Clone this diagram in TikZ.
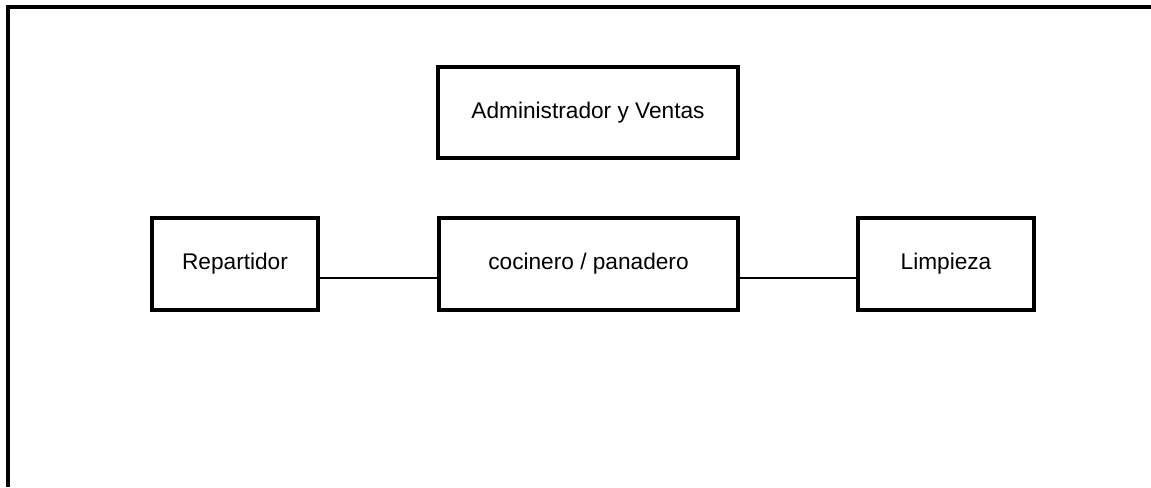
\documentclass[tikz,border=0pt]{standalone}
\usepackage{fontspec}
\setmainfont{Liberation Sans}
\tikzset{puesto/.style={draw, line width=3.4pt, minimum height=69pt, inner sep=0pt, font=\fontsize{17}{20}\selectfont}}
\begin{document}
\begin{tikzpicture}[x=0.75pt,y=-0.75pt]
  \useasboundingbox (0,0) rectangle (1151,487);
  \draw[line width=3pt] (8,487) -- (8,7) -- (1151,7);

  \node[puesto, minimum width=225pt, minimum height=68.25pt] (admin) at (588,112.5){Administrador y Ventas};
  \node[puesto, minimum width=124.5pt] (rep) at (235,264){Repartidor};
  \node[puesto, minimum width=224.25pt] (coc) at (588.5,264){cocinero / panadero};
  \node[puesto, minimum width=132pt] (lim) at (946,264){Limpieza};

  \draw[line width=2pt] ([yshift=-10.5pt]rep.east) -- ([yshift=-10.5pt]coc.west);
  \draw[line width=2pt] ([yshift=-10.5pt]coc.east) -- ([yshift=-10.5pt]lim.west);
\end{tikzpicture}
\end{document}
